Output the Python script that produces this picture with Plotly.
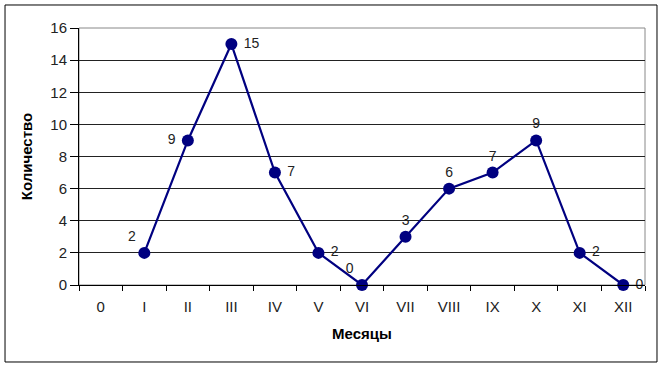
import plotly.graph_objects as go

categories = ["0", "I", "II", "III", "IV", "V", "VI", "VII", "VIII", "IX", "X", "XI", "XII"]
values = [None, 2, 9, 15, 7, 2, 0, 3, 6, 7, 9, 2, 0]
label_pos = ["top center", "top left", "middle left", "middle right", "middle right",
             "middle right", "top left", "top center", "top center", "top center",
             "top center", "middle right", "middle right"]
labels = ["" if v is None else " " + str(v) + " " if p.startswith("middle") else str(v)
          for v, p in zip(values, label_pos)]

fig = go.Figure()
fig.add_trace(go.Scatter(
    x=categories, y=values, mode="lines+markers+text",
    line=dict(color="#000080", width=2.2),
    marker=dict(color="#000080", size=12),
    text=labels, textposition=label_pos,
    textfont=dict(family="Liberation Sans, Arial", size=14, color="#222"),
    cliponaxis=False, connectgaps=False, showlegend=False,
))

fig.update_layout(
    width=663, height=367,
    margin=dict(l=79, r=18, t=28, b=82),
    paper_bgcolor="white", plot_bgcolor="white",
    font=dict(family="Liberation Sans, Arial", size=15, color="#222"),
    xaxis=dict(
        type="category", range=[-0.5, 12.5],
        ticks="outside", tickson="boundaries", ticklen=5, tickcolor="black",
        showline=True, linecolor="black", linewidth=1,
        showgrid=False, zeroline=False,
        tickfont=dict(size=15), ticklabelstandoff=8,
        title=dict(text="<b>Месяцы</b>", font=dict(size=15, color="black"), standoff=14),
    ),
    yaxis=dict(
        range=[0, 16], dtick=2,
        ticks="outside", ticklen=8, tickcolor="black",
        showline=True, linecolor="black", linewidth=1,
        showgrid=True, gridcolor="#222", gridwidth=1, zeroline=False,
        tickfont=dict(size=15),
        title=dict(text="<b>Количество</b>", font=dict(size=15, color="black"), standoff=14),
    ),
    shapes=[
        dict(type="rect", xref="paper", yref="paper",
             x0=-0.1307, x1=1.0212, y0=-0.2996, y1=1.0895,
             line=dict(color="black", width=1), fillcolor="rgba(0,0,0,0)", layer="below"),
        dict(type="rect", xref="paper", yref="paper",
             x0=0, x1=1, y0=0, y1=1,
             line=dict(color="#888", width=1), fillcolor="rgba(0,0,0,0)", layer="below"),
    ],
)

fig.write_html("out.html")
